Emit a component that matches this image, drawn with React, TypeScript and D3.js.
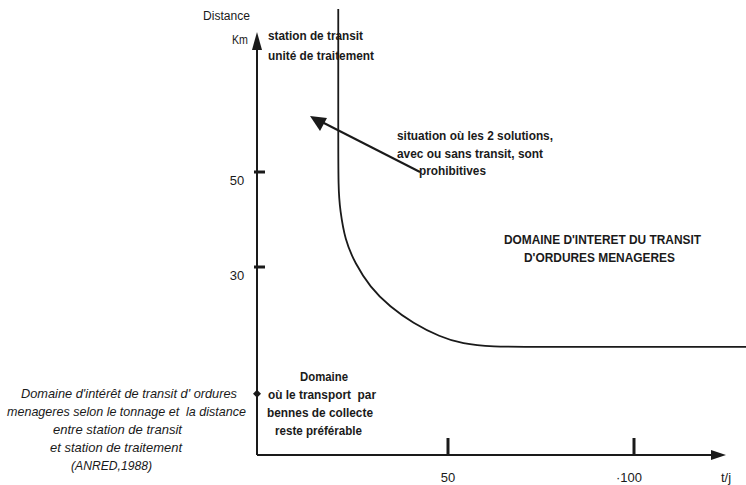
import React from "react";
import * as d3 from "d3";

// ---- data ----
const yTicks = [50, 30];
const xTicks = [50, 100];
const xTickLabels = ["50", "·100"];
// boundary curve (t/j, km)
const curveX = [20.5, 20.5, 20.5, 21.0, 22.3, 25.0, 29.0, 34.4, 40.6, 47.8, 54.0, 61.3, 75.0, 130.5];
const curveY = [84.3, 60.0, 46.2, 42.0, 35.7, 30.8, 25.8, 21.6, 18.2, 15.3, 13.8, 13.2, 13.2, 13.2];
const markerValue = 3.3; // small dot on the distance axis

const titleLines = ["station de transit", "unité de traitement"];
const prohibLines = ["situation où les 2 solutions,", "avec ou sans transit, sont", "prohibitives"];
const domainLines = ["DOMAINE D'INTERET DU TRANSIT", "D'ORDURES MENAGERES"];
const bennesLines = ["Domaine", "où le transport  par", "bennes de collecte", "reste préférable"];
const captionLines = [
  "Domaine d'intérêt de transit d' ordures",
  "menageres selon le tonnage et  la distance",
  "entre station de transit",
  "et station de traitement",
  "(ANRED,1988)",
];

// ---- layout (pixel boxes of the annotation lines) ----
type Box = { x: number; y: number; w: number };
const titleBoxes: Box[] = [
  { x: 268, y: 40, w: 95 },
  { x: 268, y: 60, w: 106 },
];
const prohibBoxes: Box[] = [
  { x: 397, y: 140, w: 156 },
  { x: 397, y: 158, w: 146 },
  { x: 419, y: 175, w: 67 },
];
const domainBoxes: Box[] = [
  { x: 504, y: 244, w: 197 },
  { x: 524, y: 262, w: 151 },
];
const bennesBoxes: Box[] = [
  { x: 300, y: 381, w: 48 },
  { x: 268, y: 399, w: 108 },
  { x: 267, y: 417, w: 106 },
  { x: 275, y: 435, w: 87 },
];
const captionBoxes: Box[] = [
  { x: 21, y: 398, w: 216 },
  { x: 7, y: 416, w: 239 },
  { x: 53, y: 434, w: 129 },
  { x: 50, y: 452, w: 132 },
  { x: 71, y: 470, w: 81 },
];

const W = 746;
const H = 485;
const ink = "#1a1a1a";

export default function App() {
  const x = d3.scaleLinear().domain([50, 100]).range([448, 634]);
  const y = d3.scaleLinear().domain([30, 50]).range([267, 172]);
  const axisX = 257;
  const axisY = 455;
  const xEnd = 726;
  const yTop = 32;

  const curvePath =
    d3
      .line<number>()
      .x((i) => x(curveX[i]))
      .y((i) => y(curveY[i]))
      .curve(d3.curveBasis)(d3.range(curveX.length)) || "";

  const font = "'Liberation Sans', Arial, sans-serif";

  const renderLines = (lines: string[], boxes: Box[], size: number, extra: any) =>
    lines.map((s, i) => (
      <text
        key={s}
        x={boxes[i].x}
        y={boxes[i].y}
        fontSize={size}
        textLength={boxes[i].w}
        lengthAdjust="spacingAndGlyphs"
        style={{ whiteSpace: "pre" }}
        {...extra}
      >
        {s}
      </text>
    ));

  return (
    <svg width={W} height={H} style={{ position: "absolute", left: 0, top: 0, background: "#fff" }}>
      <g fill={ink} fontFamily={font}>
        {/* axes */}
        <line x1={axisX} y1={axisY} x2={axisX} y2={yTop + 10} stroke={ink} strokeWidth={2} />
        <path d={`M${axisX},${yTop} L${axisX - 5},${yTop + 18} L${axisX + 5},${yTop + 18} Z`} />
        <line x1={axisX} y1={axisY} x2={xEnd - 10} y2={axisY} stroke={ink} strokeWidth={2} />
        <path d={`M${xEnd},${axisY} L${xEnd - 15},${axisY - 5} L${xEnd - 15},${axisY + 5} Z`} />
        {yTicks.map((t) => (
          <g key={t}>
            <line x1={axisX - 3} x2={axisX + 8} y1={y(t)} y2={y(t)} stroke={ink} strokeWidth={3} />
            <text x={237} y={y(t) + 13} fontSize={13} textAnchor="middle">{t}</text>
          </g>
        ))}
        {xTicks.map((t, i) => (
          <g key={t}>
            <line x1={x(t)} x2={x(t)} y1={axisY} y2={axisY - 17} stroke={ink} strokeWidth={3} />
            <text x={x(t) - (i === 1 ? 5 : 0)} y={482} fontSize={13} textAnchor="middle">{xTickLabels[i]}</text>
          </g>
        ))}
        <text x={726} y={482} fontSize={13} textAnchor="middle">t/j</text>
        <text x={203} y={20} fontSize={12} textLength={47} lengthAdjust="spacingAndGlyphs">Distance</text>
        <text x={232} y={44} fontSize={13} textLength={16} lengthAdjust="spacingAndGlyphs">Km</text>
        <path d={`M${axisX},${y(markerValue) - 4} l4,4 l-4,4 l-4,-4 Z`} />

        {/* boundary curve */}
        <path d={curvePath} fill="none" stroke={ink} strokeWidth={1.8} />

        {/* arrow to prohibitive region */}
        <line x1={420} y1={172} x2={318} y2={120} stroke={ink} strokeWidth={2} />
        <path d="M310,116 L327,118 L320,131 Z" />

        {/* annotations */}
        {renderLines(titleLines, titleBoxes, 13, { fontWeight: "bold" })}
        {renderLines(prohibLines, prohibBoxes, 13, { fontWeight: "bold" })}
        {renderLines(domainLines, domainBoxes, 13.5, { fontWeight: "bold" })}
        {renderLines(bennesLines, bennesBoxes, 12.5, { fontWeight: "bold" })}
        {renderLines(captionLines, captionBoxes, 13, { fontStyle: "italic" })}
      </g>
    </svg>
  );
}
